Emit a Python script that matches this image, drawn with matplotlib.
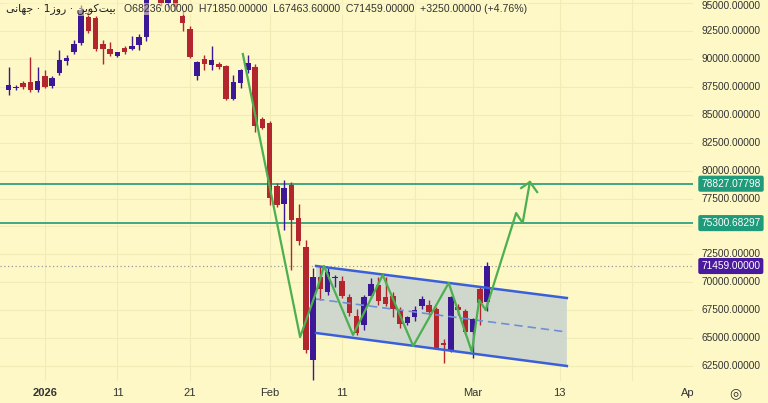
import matplotlib
matplotlib.use("Agg")
import matplotlib.pyplot as plt
from matplotlib.patches import Polygon

# ---- data (day offsets from 2026-01-01) ----
first_day = -5
opens  = [87214,87393,87840,87930,87214,88467,87572,88735,89809,90614,91420,93747,93657,91330,90883,90256,90972,90883,91241,91957,
          96800,96200,95000,96300,93836,92673,88467,89988,89451,89540,89362,86408,87840,89004,89272,84618,84260,78622,77011,78711,
          75758,73162,63051,70477,69135,70400,70119,68687,66987,66182,68777,69761,68687,68777,67524,66361,66898,67881,67971,67613,
          64572,63946,67792,67434,65556,69403,68236]
highs  = [89272,87661,88019,90167,89272,89004,88467,90793,90346,91689,94800,94500,93800,91689,91510,90614,91151,92046,92200,96500,
          97500,96800,97000,96800,94300,92900,89800,90346,91151,89700,89450,88556,89100,90346,89500,84800,84400,78900,79160,79000,
          77000,73800,71283,71500,71283,70700,70600,69000,67600,68900,70400,70500,70500,69100,67800,67000,67900,68800,68400,67800,
          64930,68800,68100,67600,66800,69700,71850]
lows   = [86766,87214,87300,87035,87035,87393,87393,88556,89451,90435,91240,92300,90700,89540,90256,90167,90435,90793,90793,91600,
          95500,94700,94600,94300,92494,90100,88109,89004,89004,89100,86300,86318,87393,88700,83455,83700,76921,76700,74684,71100,
          73341,63700,61261,68419,68900,69600,68600,67000,65300,65700,68600,68000,67900,66900,65900,66200,66500,67600,67100,64035,
          62782,63800,67100,65400,63230,66200,67463]
closes = [87661,87482,87482,87214,88019,87482,88288,89898,90077,91330,94374,92494,90883,90883,90435,90614,90614,91151,91957,96000,
          96200,95000,96300,94600,93210,90167,89719,89540,89898,89272,86408,87930,89004,89630,83992,83813,77548,76921,78443,75579,
          73699,63946,70477,69403,70925,70477,68777,67255,65466,68687,69851,68329,68060,67613,66272,66898,67524,68508,67345,64035,
          64393,68687,67524,65556,66719,68150,71459]

level_lines = [78827.07798, 75300.68297]
last_price = 71459.0
channel_days = [37.4, 72.0]
channel_upper = [71462, 68597]
channel_lower = [65466, 62512]
channel_mid = [68508, 65556]
path_days  = [27.3, 35.2, 37.5, 38.5, 42.5, 46.6, 50.8, 55.7, 58.9, 59.9, 60.8, 65.0, 65.9, 66.9]
path_price = [90435, 65100, 69300, 71460, 65290, 70660, 64300, 69940, 63760, 68420, 67520, 76200, 75310, 78980]
arrow_days = [65.7, 66.9, 67.9]
arrow_price = [78440, 78980, 78080]
xtick_days = [0, 10, 20, 31, 41, 59, 71]
xtick_labels = ["2026", "11", "21", "Feb", "11", "Mar", "13"]
yticks = [62500 + 2500 * i for i in range(14)]

BG = "#fdf8c6"
UP = "#3d1896"
DN = "#b3262d"
GREEN = "#4caf50"
TEAL = "#1f9a7a"
BLUE = "#3a5fd9"
FONT = ["Liberation Sans", "DejaVu Sans"]

fig = plt.figure(figsize=(7.68, 4.03), dpi=100, facecolor=BG)
ax = fig.add_axes([0, 22/403, 693/768, 381/403])
ax.set_facecolor(BG)
ax.set_xlim(-6.2, 89.4)
ax.set_ylim(61169, 95268)

for d in xtick_days + [51, 81]:
    ax.axvline(d, color="#f1ebb6", lw=0.8, zorder=0)
for y in yticks:
    ax.axhline(y, color="#f1ebb6", lw=0.8, zorder=0)

poly = Polygon([(channel_days[0], channel_upper[0]), (channel_days[1], channel_upper[1]),
                (channel_days[1], channel_lower[1]), (channel_days[0], channel_lower[0])],
               closed=True, facecolor="#c9d3d0", alpha=0.85, edgecolor="none", zorder=1)
ax.add_patch(poly)

for i, (o, h, l, c) in enumerate(zip(opens, highs, lows, closes)):
    d = first_day + i
    col = UP if c >= o else DN
    ax.vlines(d, l, h, color=col, lw=1, zorder=3)
    ax.bar(d, abs(c - o) or 60, bottom=min(o, c), width=0.75, color=col, zorder=3)

ax.plot(channel_days, channel_upper, color=BLUE, lw=1.8, zorder=4)
ax.plot(channel_days, channel_lower, color=BLUE, lw=1.8, zorder=4)
ax.plot(channel_days, channel_mid, color="#6f8fd6", lw=1.2, ls=(0, (5, 3)), zorder=4)

for lv in level_lines:
    ax.axhline(lv, color=TEAL, lw=1.2, zorder=2)
ax.axhline(last_price, color="#999999", lw=0.9, ls=(0, (1, 2)), zorder=2)

ax.plot(path_days, path_price, color=GREEN, lw=1.6, zorder=5)
ax.plot(arrow_days, arrow_price, color=GREEN, lw=1.6, zorder=5)

for s in ax.spines.values():
    s.set_visible(False)
ax.set_xticks([]); ax.set_yticks([])

def yfrac(v):
    return (v - 61169) / (95268 - 61169)

for y in yticks:
    if y == 75000:
        continue
    ax.text(1.012, min(yfrac(y), 0.985), f"{y:.5f}", transform=ax.transAxes, family=FONT,
            fontsize=7.3, color="#333333", va="center", ha="left")
for val, col in [(level_lines[0], TEAL), (level_lines[1], TEAL), (last_price, "#4a1a9e")]:
    ax.text(1.012, yfrac(val), f"{val:.5f}", transform=ax.transAxes, family=FONT,
            fontsize=7.3, color="white", va="center", ha="left",
            bbox=dict(boxstyle="round,pad=0.3,rounding_size=0.2", fc=col, ec="none"))

for d, lab in zip(xtick_days, xtick_labels):
    fig.text((d + 6.2) / 95.6 * 693 / 768, 10/403, lab, fontsize=8, color="#333333", family=FONT,
             ha="center", va="center", fontweight="bold" if lab == "2026" else "normal")
fig.text(688/768, 10/403, "Ap", fontsize=8, color="#333333", ha="center", va="center", family=FONT)
fig.text(735/768, 10/403, "\u25CE", fontsize=10, color="#333333", ha="center", va="center")

persian = "\uFBFD\uFEE7\uFE8E\uFEEC\uFE9F \u00B7 1\uFEAF\uFEED\uFEAD \u00B7 \uFEE6\uFBFE\uFEEE\uFB90\uFE96\uFBFF\uFE91"
fig.text(6/768, 1 - 9/403, persian, fontsize=7.8, color="#222222", va="center", ha="left",
         family=["DejaVu Sans"], bbox=dict(fc=BG, ec="none", alpha=0.55, pad=1))
fig.text(124/768, 1 - 9/403,
         "O68236.00000  H71850.00000  L67463.60000  C71459.00000  +3250.00000 (+4.76%)",
         fontsize=7.6, color="#333333", va="center", ha="left", family=FONT,
         bbox=dict(fc=BG, ec="none", alpha=0.55, pad=1))

fig.savefig("out.png", dpi=100, facecolor=BG)
